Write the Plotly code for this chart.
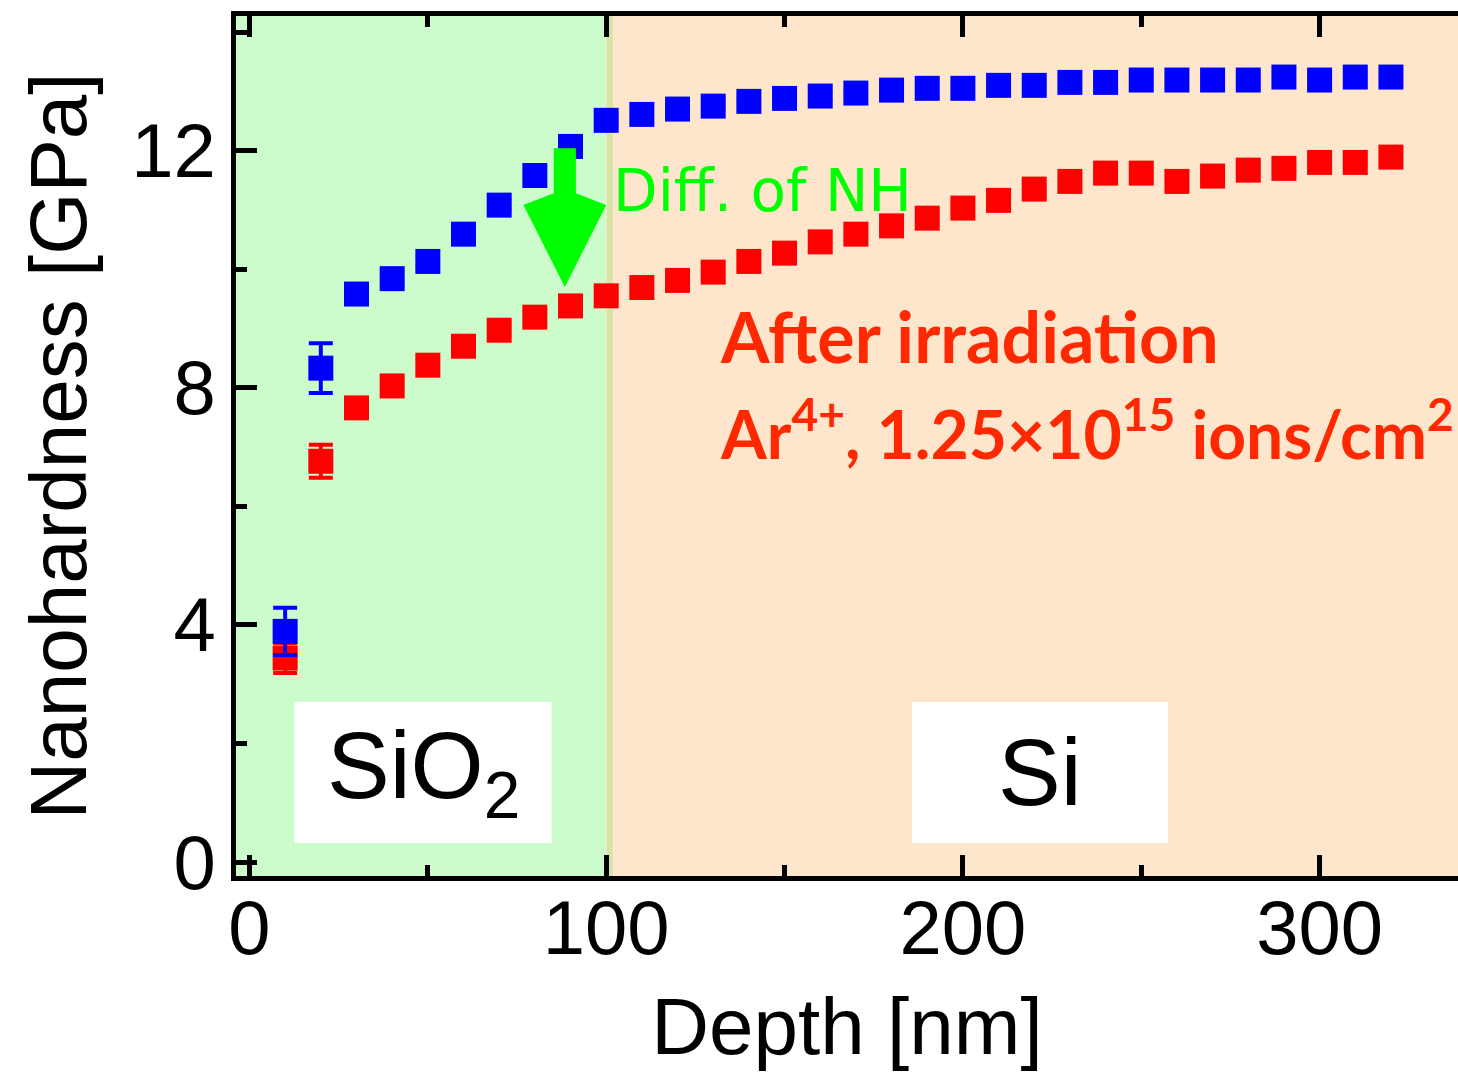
import plotly.graph_objects as go

# Indentation depth (nm)
depth = [10, 20, 30, 40, 50, 60, 70, 80, 90, 100,
         110, 120, 130, 140, 150, 160, 170, 180, 190, 200,
         210, 220, 230, 240, 250, 260, 270, 280, 290, 300, 310, 320]

# Nanohardness before irradiation (GPa)
nh_before = [3.89, 8.33, 9.58, 9.84, 10.13, 10.59, 11.08, 11.58, 12.07, 12.51,
             12.61, 12.70, 12.75, 12.83, 12.88, 12.92, 12.97, 13.02, 13.05, 13.05,
             13.10, 13.10, 13.15, 13.15, 13.19, 13.19, 13.19, 13.19, 13.24, 13.19, 13.24, 13.24]
err_before = [0.40, 0.42, 0.15, 0.10, 0.08, 0.08, 0.08, 0.08, 0.08, 0.08,
              0.06, 0.06, 0.06, 0.06, 0.06, 0.06, 0.06, 0.06, 0.06, 0.06,
              0.06, 0.06, 0.06, 0.06, 0.06, 0.06, 0.06, 0.06, 0.06, 0.06, 0.06, 0.06]

# Nanohardness after Ar4+ irradiation (GPa)
nh_after = [3.44, 6.76, 7.66, 8.03, 8.38, 8.70, 8.97, 9.19, 9.38, 9.55,
            9.69, 9.81, 9.95, 10.13, 10.27, 10.46, 10.59, 10.73, 10.86, 11.03,
            11.16, 11.35, 11.48, 11.62, 11.62, 11.48, 11.57, 11.67, 11.70, 11.80, 11.80, 11.89]
err_after = [0.25, 0.28, 0.10, 0.08, 0.08, 0.08, 0.08, 0.08, 0.08, 0.08,
             0.06, 0.06, 0.06, 0.06, 0.06, 0.06, 0.06, 0.06, 0.06, 0.06,
             0.06, 0.06, 0.06, 0.06, 0.06, 0.06, 0.06, 0.06, 0.06, 0.06, 0.06, 0.06]

# Layer boundary and layer label boxes (nm / GPa)
interface_depth = 100
sio2_box = dict(x0=12.6, x1=84.7, y0=0.32, y1=2.70)
si_box = dict(x0=185.7, x1=257.5, y0=0.32, y1=2.70)

x_range = [-3.78, 338.8]
y_range = [-0.236, 14.27]

FONT = "Liberation Sans, Arial, Helvetica, sans-serif"
GREEN = "#00ff00"
RED_TXT = "#ff2800"

fig = go.Figure()

fig.add_trace(go.Scatter(
    x=depth, y=nh_after, mode="markers", name="After irradiation",
    marker=dict(symbol="square", size=25, color="#ff0000", line=dict(width=0)),
    error_y=dict(type="data", array=err_after, color="#ff0000", thickness=4, width=12),
))
fig.add_trace(go.Scatter(
    x=depth, y=nh_before, mode="markers", name="Before irradiation",
    marker=dict(symbol="square", size=25, color="#0000ff", line=dict(width=0)),
    error_y=dict(type="data", array=err_before, color="#0000ff", thickness=4, width=12),
))

shapes = [
    # SiO2 layer (green) and Si substrate (peach)
    dict(type="rect", xref="x", yref="y", x0=-20, x1=interface_depth, y0=-5, y1=20,
         fillcolor="#ccfccc", line=dict(width=0), layer="below"),
    dict(type="rect", xref="x", yref="y", x0=interface_depth, x1=400, y0=-5, y1=20,
         fillcolor="#fde6cc", line=dict(width=0), layer="below"),
    dict(type="line", xref="x", yref="y", x0=interface_depth + 1, x1=interface_depth + 1,
         y0=-5, y1=20, line=dict(color="#d6e4a8", width=6), layer="below"),
    # label boxes
    dict(type="rect", xref="x", yref="y", fillcolor="white", line=dict(width=0),
         layer="below", **sio2_box),
    dict(type="rect", xref="x", yref="y", fillcolor="white", line=dict(width=0),
         layer="below", **si_box),
]

# Green arrow marking the hardness drop
ax, shaft_top, head_base, tip = 88.4, 12.04, 11.08, 9.70
shaft_hw, head_hw = 3.1, 11.6
arrow_path = (
    f"M {ax - shaft_hw},{shaft_top} L {ax + shaft_hw},{shaft_top} "
    f"L {ax + shaft_hw},{head_base + 0.2} L {ax + head_hw},{head_base} "
    f"L {ax},{tip} L {ax - head_hw},{head_base} "
    f"L {ax - shaft_hw},{head_base + 0.2} Z"
)
shapes.append(dict(type="path", xref="x", yref="y", path=arrow_path,
                   fillcolor=GREEN, line=dict(width=0), layer="above"))

annotations = [
    dict(x=(sio2_box["x0"] + sio2_box["x1"]) / 2, y=(sio2_box["y0"] + sio2_box["y1"]) / 2,
         xref="x", yref="y", text="SiO<sub>2</sub>", showarrow=False,
         font=dict(family=FONT, size=94, color="black")),
    dict(x=(si_box["x0"] + si_box["x1"]) / 2, y=(si_box["y0"] + si_box["y1"]) / 2,
         xref="x", yref="y", text="Si", showarrow=False,
         font=dict(family=FONT, size=94, color="black")),
    dict(x=101.3, y=11.31, xref="x", yref="y", text="Diff. of NH", showarrow=False,
         xanchor="left", font=dict(family="DejaVu Sans, sans-serif", size=58, color=GREEN)),
    dict(x=131.3, y=8.88, xref="x", yref="y", text="<b>After irradiation</b>",
         showarrow=False, xanchor="left",
         font=dict(family="Lato, sans-serif", size=70, color=RED_TXT)),
    dict(x=131.3, y=7.30, xref="x", yref="y",
         text="<b>Ar<sup>4+</sup>, 1.25×10<sup>15</sup> ions/cm<sup>2</sup></b>",
         showarrow=False, xanchor="left",
         font=dict(family="Lato, sans-serif", size=66, color=RED_TXT)),
]

axis_common = dict(
    showgrid=False, zeroline=False, showline=True, linecolor="black", linewidth=5,
    ticks="inside", tickcolor="black", tickwidth=5, ticklen=21,
    tickfont=dict(family=FONT, size=76, color="black"),
)

fig.update_layout(
    width=1458, height=1076,
    margin=dict(l=236, r=0, t=16, b=200),
    paper_bgcolor="white", plot_bgcolor="#fde6cc",
    showlegend=False,
    shapes=shapes, annotations=annotations,
    xaxis=dict(
        range=x_range, tickvals=[0, 100, 200, 300], mirror="ticks",
        ticklabelstandoff=-18,
        minor=dict(tickvals=[50, 150, 250], ticks="inside", ticklen=11,
                   tickwidth=5, tickcolor="black"),
        title=dict(text="Depth [nm]", font=dict(family=FONT, size=80, color="black"),
                   standoff=30),
        **axis_common,
    ),
    yaxis=dict(
        range=y_range, tickvals=[0, 4, 8, 12],
        minor=dict(tickvals=[2, 6, 10, 14], ticks="inside", ticklen=11,
                   tickwidth=5, tickcolor="black"),
        title=dict(text="Nanohardness [GPa]", font=dict(family=FONT, size=80, color="black"),
                   standoff=20),
        **axis_common,
    ),
    yaxis2=dict(
        range=y_range, overlaying="y", side="right", showline=False,
        showgrid=False, zeroline=False, showticklabels=False,
        tickvals=[0, 4, 8, 12], ticks="inside", ticklen=5, tickwidth=5, tickcolor="black",
    ),
)

fig.write_html("out.html")
